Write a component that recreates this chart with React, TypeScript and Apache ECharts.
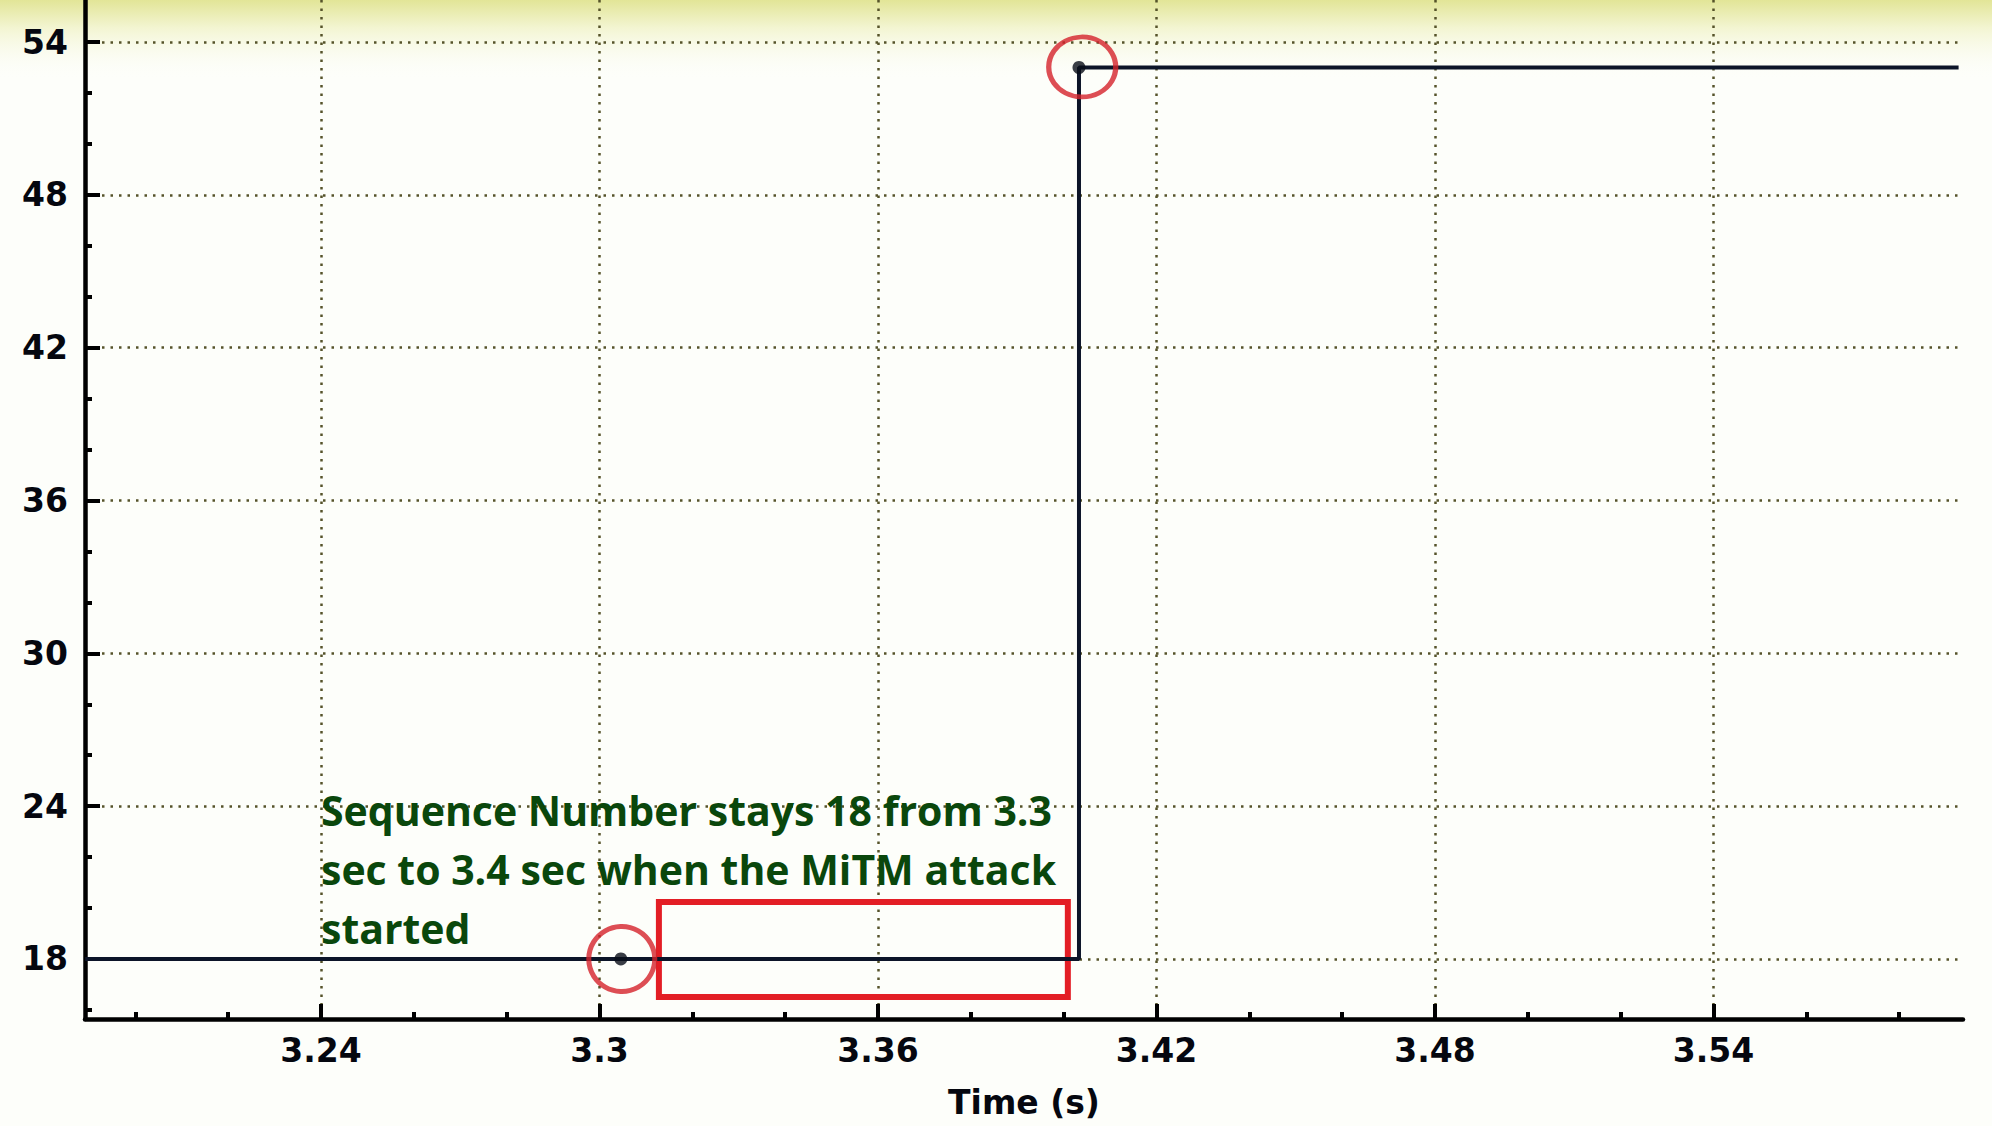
import React, { useEffect, useRef } from 'react';
import * as echarts from 'echarts';

const xMajorTicks = [3.24, 3.3, 3.36, 3.42, 3.48, 3.54];
const xMinorTicks = [3.2, 3.22, 3.26, 3.28, 3.32, 3.34, 3.38, 3.4, 3.44, 3.46, 3.5, 3.52, 3.56, 3.58];
const yMajorTicks = [18, 24, 30, 36, 42, 48, 54];
const yMinorTicks = [16, 20, 22, 26, 28, 32, 34, 38, 40, 44, 46, 50, 52];

const timeValues = [3.1892, 3.3046, 3.4033, 3.4033, 3.5928];
const seqValues = [18, 18, 18, 53, 53];

const markerTimes = [3.3046, 3.4033];
const markerSeq = [18, 53];

const circleTimes = [3.3048, 3.404];
const circleSeq = [18, 53.02];

const boxTimes = [3.3128, 3.4009];
const boxSeq = [16.51, 20.24];

const annotationLines = [
  'Sequence Number stays 18 from 3.3',
  'sec to 3.4 sec when the MiTM attack',
  'started',
];

const X_MIN = 3.18916;
const X_MAX = 3.59375;
const Y_MIN = 15.644;
const Y_MAX = 55.65;

export default function App() {
  const ref = useRef<HTMLDivElement>(null);

  useEffect(() => {
    if (!ref.current) return;
    const chart = echarts.init(ref.current, null, { renderer: 'svg' });
    const labelFont = {
      fontFamily: 'DejaVu Sans',
      fontWeight: 'bold' as const,
      fontSize: 33,
      color: '#05070f',
    };
    const gridLine = { show: true, lineStyle: { type: [2.5, 6], color: '#55532a', width: 2.5 } };

    chart.setOption({
      animation: false,
      backgroundColor: '#fdfefa',
      grid: { left: 85, right: 29, top: 0, bottom: 107, containLabel: false },
      graphic: [
        {
          type: 'rect',
          z: -10,
          silent: true,
          shape: { x: 0, y: 0, width: 1992, height: 80 },
          style: {
            fill: new echarts.graphic.LinearGradient(0, 0, 0, 1, [
              { offset: 0, color: '#e2e597' },
              { offset: 0.35, color: '#f3f5d2' },
              { offset: 1, color: 'rgba(253,254,250,0)' },
            ]),
          },
        },
        {
          type: 'text',
          left: 321,
          top: 780,
          z: 100,
          silent: true,
          style: {
            text: annotationLines.join('\n'),
            fontFamily: 'Open Sans',
            fontWeight: 'bold',
            fontSize: 41,
            lineHeight: 59,
            fill: '#0a470c',
          },
        },
      ],
      xAxis: [
        {
          type: 'value',
          min: X_MIN,
          max: X_MAX,
          position: 'bottom',
          axisLine: { onZero: false, lineStyle: { color: '#000', width: 4.5 } },
          axisTick: { inside: true, length: 15, customValues: xMajorTicks, lineStyle: { color: '#000', width: 4 } },
          axisLabel: { ...labelFont, customValues: xMajorTicks, margin: 15 },
          splitLine: gridLine,
          name: 'Time (s)',
          nameLocation: 'middle',
          nameGap: 67,
          nameTextStyle: { ...labelFont, fontSize: 33 },
        },
        {
          type: 'value',
          min: X_MIN,
          max: X_MAX,
          position: 'bottom',
          axisLine: { show: false, onZero: false },
          axisTick: { inside: true, length: 7, customValues: xMinorTicks, lineStyle: { color: '#000', width: 4 } },
          axisLabel: { show: false },
          splitLine: { show: false },
        },
      ],
      yAxis: [
        {
          type: 'value',
          min: Y_MIN,
          max: Y_MAX,
          position: 'left',
          axisLine: { onZero: false, lineStyle: { color: '#000', width: 4.5 } },
          axisTick: { inside: true, length: 15, customValues: yMajorTicks, lineStyle: { color: '#000', width: 4 } },
          axisLabel: { ...labelFont, customValues: yMajorTicks, margin: 17 },
          splitLine: gridLine,
        },
        {
          type: 'value',
          min: Y_MIN,
          max: Y_MAX,
          position: 'left',
          axisLine: { show: false, onZero: false },
          axisTick: { inside: true, length: 7, customValues: yMinorTicks, lineStyle: { color: '#000', width: 4 } },
          axisLabel: { show: false },
          splitLine: { show: false },
        },
      ],
      series: [
        {
          type: 'line',
          xAxisIndex: 0,
          yAxisIndex: 0,
          data: timeValues.map((t, i) => [t, seqValues[i]]),
          showSymbol: false,
          lineStyle: { color: '#0c1428', width: 4 },
          z: 5,
          markArea: {
            silent: true,
            itemStyle: { color: 'rgba(0,0,0,0)', borderColor: '#e31e25', borderWidth: 6 },
            data: [[{ coord: [boxTimes[0], boxSeq[1]] }, { coord: [boxTimes[1], boxSeq[0]] }]],
          },
        },
        {
          type: 'scatter',
          xAxisIndex: 0,
          yAxisIndex: 0,
          data: markerTimes.map((t, i) => [t, markerSeq[i]]),
          symbol: 'circle',
          symbolSize: 13,
          itemStyle: { color: '#080c18' },
          z: 6,
        },
        {
          type: 'scatter',
          xAxisIndex: 0,
          yAxisIndex: 0,
          data: [
            { value: [circleTimes[0], circleSeq[0]], symbolSize: [66, 65] },
            { value: [circleTimes[1], circleSeq[1]], symbolSize: [67, 60] },
          ],
          symbol: 'circle',
          itemStyle: { color: 'rgba(0,0,0,0)', borderColor: '#d4222a', borderWidth: 5 },
          z: 7,
        },
      ],
    });
    return () => chart.dispose();
  }, []);

  return (
    <div
      ref={ref}
      style={{ position: 'fixed', left: 0, top: 0, width: 1992, height: 1126 }}
    />
  );
}
